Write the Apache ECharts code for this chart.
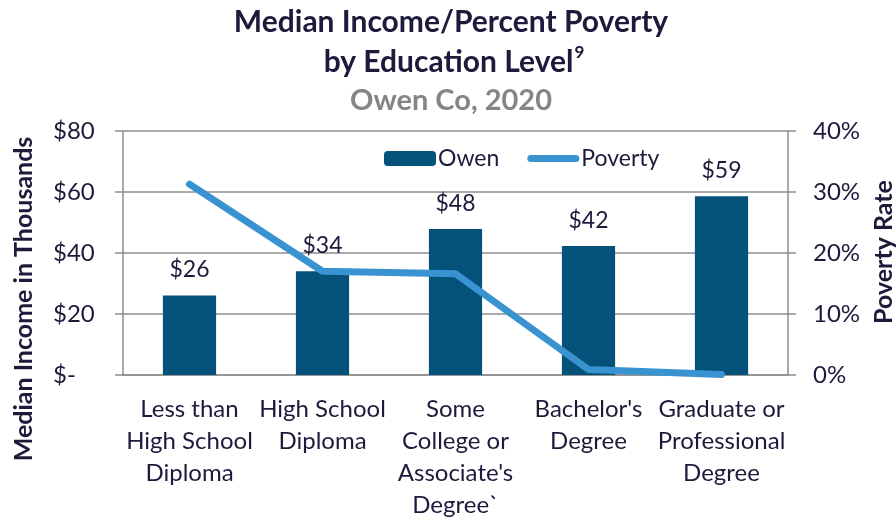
<!DOCTYPE html>
<html>
<head>
<meta charset="utf-8">
<script src="https://cdn.jsdelivr.net/npm/echarts@6/dist/echarts.min.js"></script>
<style>
  html, body { margin: 0; padding: 0; background: #fff; }
  #chart { width: 896px; height: 521px; }
</style>
</head>
<body>
<div id="chart"></div>
<script>
// education levels (x axis)
const categories = [
  'Less than\nHigh School\nDiploma',
  'High School\nDiploma',
  'Some\nCollege or\nAssociate\'s\nDegree`',
  'Bachelor\'s\nDegree',
  'Graduate or\nProfessional\nDegree'
]
// median income, thousands of dollars
const owenIncome = [26.1, 34.0, 47.9, 42.3, 58.6]
// poverty rate, percent
const povertyRate = [31.3, 17.0, 16.6, 0.9, 0.1]

const incomeTicks = { min: 0, max: 80, interval: 20 }
const rateTicks = { min: 0, max: 40, interval: 10 }

const FONT = 'Lato, "Noto Sans", sans-serif'
const TEXT = '#1c1b3b'
const GRID = '#8e8e8e'

const chart = echarts.init(document.getElementById('chart'))

const option = {
  animation: false,
  textStyle: { fontFamily: FONT },
  legend: {
    left: 379,
    top: 142,
    itemWidth: 52,
    itemHeight: 15,
    itemGap: 28,
    textStyle: { fontFamily: FONT, fontSize: 23, color: TEXT, padding: [0, 0, 0, -3] },
    data: [
      { name: 'Owen' },
      { name: 'Poverty', icon: 'path://M3.5,0 H48.5 A3.5,3.5 0 0 1 48.5,7 H3.5 A3.5,3.5 0 0 1 3.5,0 Z' }
    ]
  },
  grid: {
    left: 123,
    right: 108,
    top: 131,
    bottom: 145
  },
  xAxis: {
    type: 'category',
    data: categories,
    axisLine: { lineStyle: { color: GRID, width: 1.5 } },
    axisTick: { length: 7, lineStyle: { color: GRID, width: 1.5 } },
    axisLabel: {
      interval: 0,
      margin: 18,
      fontFamily: FONT,
      fontSize: 24,
      lineHeight: 32,
      color: TEXT
    }
  },
  yAxis: [
    {
      type: 'value',
      ...incomeTicks,
      axisLine: { show: true, lineStyle: { color: GRID, width: 1.5 } },
      axisTick: { show: true, length: 8, lineStyle: { color: GRID, width: 1.5 } },
      splitLine: { lineStyle: { color: GRID, width: 1.5 } },
      axisLabel: {
        align: 'left',
        margin: 70,
        fontFamily: FONT,
        fontSize: 24,
        color: TEXT,
        formatter: v => v === 0 ? '$-' : '$' + v
      }
    },
    {
      type: 'value',
      ...rateTicks,
      position: 'right',
      axisLine: { show: true, lineStyle: { color: GRID, width: 1.5 } },
      axisTick: { show: true, length: 8, lineStyle: { color: GRID, width: 1.5 } },
      splitLine: { show: false },
      axisLabel: {
        margin: 25,
        fontFamily: FONT,
        fontSize: 24,
        color: TEXT,
        formatter: '{value}%'
      }
    }
  ],
  graphic: [
    {
      type: 'text',
      x: 451,
      y: 22,
      style: {
        text: 'Median Income/Percent Poverty',
        font: 'bold 30px ' + FONT,
        fill: TEXT,
        align: 'center',
        verticalAlign: 'middle'
      }
    },
    {
      type: 'text',
      x: 454,
      y: 62,
      style: {
        text: '{m|by Education Level}{s|9}',
        align: 'center',
        verticalAlign: 'middle',
        rich: {
          m: { fontFamily: FONT, fontSize: 30, fontWeight: 'bold', fill: TEXT, lineHeight: 36 },
          s: { fontFamily: FONT, fontSize: 17, fontWeight: 'bold', fill: TEXT, lineHeight: 36, verticalAlign: 'top', padding: [0, 0, 16, 1] }
        }
      }
    },
    {
      type: 'text',
      x: 451,
      y: 101,
      style: {
        text: 'Owen Co, 2020',
        font: 'bold 29px ' + FONT,
        fill: '#858585',
        align: 'center',
        verticalAlign: 'middle'
      }
    },
    {
      type: 'text',
      x: 24,
      y: 299,
      rotation: Math.PI / 2,
      style: {
        text: 'Median Income in Thousands',
        font: 'bold 25px ' + FONT,
        fill: TEXT,
        align: 'center',
        verticalAlign: 'middle'
      }
    },
    {
      type: 'text',
      x: 884,
      y: 252,
      rotation: Math.PI / 2,
      style: {
        text: 'Poverty Rate',
        font: 'bold 25px ' + FONT,
        fill: TEXT,
        align: 'center',
        verticalAlign: 'middle'
      }
    }
  ],
  series: [
    {
      name: 'Owen',
      type: 'bar',
      yAxisIndex: 0,
      data: owenIncome,
      barWidth: '40%',
      itemStyle: { color: '#04527a' },
      label: {
        show: true,
        position: 'top',
        distance: 14,
        fontFamily: FONT,
        fontSize: 23,
        color: TEXT,
        formatter: p => '$' + Math.round(p.value)
      }
    },
    {
      name: 'Poverty',
      type: 'line',
      yAxisIndex: 1,
      data: povertyRate,
      symbol: 'none',
      z: 5,
      lineStyle: { color: '#3993d1', width: 7, cap: 'round', join: 'round' },
      itemStyle: { color: '#3993d1' }
    }
  ]
}

chart.setOption(option)
</script>
</body>
</html>
